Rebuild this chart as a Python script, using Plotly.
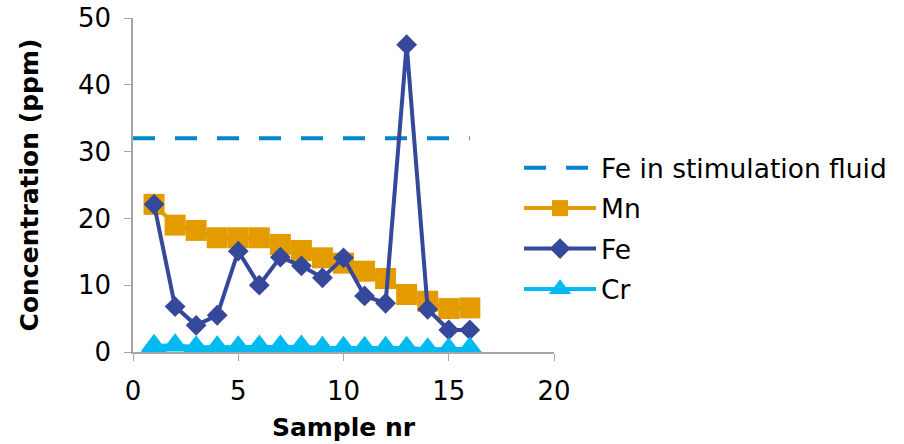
import plotly.graph_objects as go

samples = list(range(1, 17))
mn = [22.1, 19.0, 18.2, 17.1, 17.1, 17.1, 16.1, 15.2, 14.1, 13.3, 12.1, 11.0, 8.6, 7.6, 6.5, 6.6]
fe = [22.1, 6.8, 4.0, 5.5, 15.1, 10.0, 14.2, 12.9, 11.1, 14.1, 8.4, 7.3, 46.0, 6.4, 3.3, 3.3]
cr = [0.9, 1.0, 0.7, 0.7, 0.7, 0.8, 0.8, 0.8, 0.6, 0.6, 0.6, 0.6, 0.6, 0.4, 0.4, 0.5]
fluid_x = [0, 16]
fluid_y = [32, 32]

FONT = "DejaVu Sans"

fig = go.Figure()
fig.add_trace(go.Scatter(x=fluid_x, y=fluid_y, mode="lines", name="Fe in stimulation fluid",
                         line=dict(color="#0085CC", width=4, dash="22px,20px"),
                         legendgroup="a"))
fig.add_trace(go.Scatter(x=samples, y=mn, mode="lines+markers", name="Mn",
                         line=dict(color="#E39B00", width=4),
                         marker=dict(symbol="square", size=21, color="#E39B00"),
                         legendgroup="b"))
fig.add_trace(go.Scatter(x=samples, y=fe, mode="lines+markers", name="Fe",
                         line=dict(color="#36489A", width=4),
                         marker=dict(symbol="diamond", size=16, color="#36489A"),
                         legendgroup="c"))
fig.add_trace(go.Scatter(x=samples, y=cr, mode="lines+markers", name="Cr",
                         line=dict(color="#00BAF0", width=4),
                         marker=dict(symbol="triangle-up", size=21, color="#00BAF0",
                                     line=dict(color="#00BAF0", width=2)),
                         legendgroup="d"))

axis_common = dict(showgrid=False, zeroline=False, showline=True, linecolor="#A6A6A6",
                   linewidth=1.5, ticks="outside", tickcolor="#A6A6A6", ticklen=7,
                   automargin=False,
                   tickfont=dict(family=FONT, size=26, color="#000000"))

fig.update_layout(
    width=904, height=444,
    margin=dict(l=133, r=348, t=18, b=92),
    paper_bgcolor="white", plot_bgcolor="white",
    font=dict(family=FONT, size=26, color="#000000"),
    xaxis=dict(range=[0, 20], dtick=5, ticklabelstandoff=8,
               title=dict(text="<b>Sample nr</b>", font=dict(family=FONT, size=25), standoff=14),
               **axis_common),
    yaxis=dict(range=[0, 50], dtick=10, ticklabelstandoff=8,
               title=dict(text="<b>Concentration (ppm)</b>", font=dict(family=FONT, size=25), standoff=32),
               **axis_common),
    legend=dict(x=0.917, y=0.623, xanchor="left", yanchor="top", font=dict(family=FONT, size=26.5),
                tracegroupgap=3, traceorder="grouped", itemwidth=72, bgcolor="rgba(0,0,0,0)"),
    showlegend=True,
)

fig.write_html("out.html")
